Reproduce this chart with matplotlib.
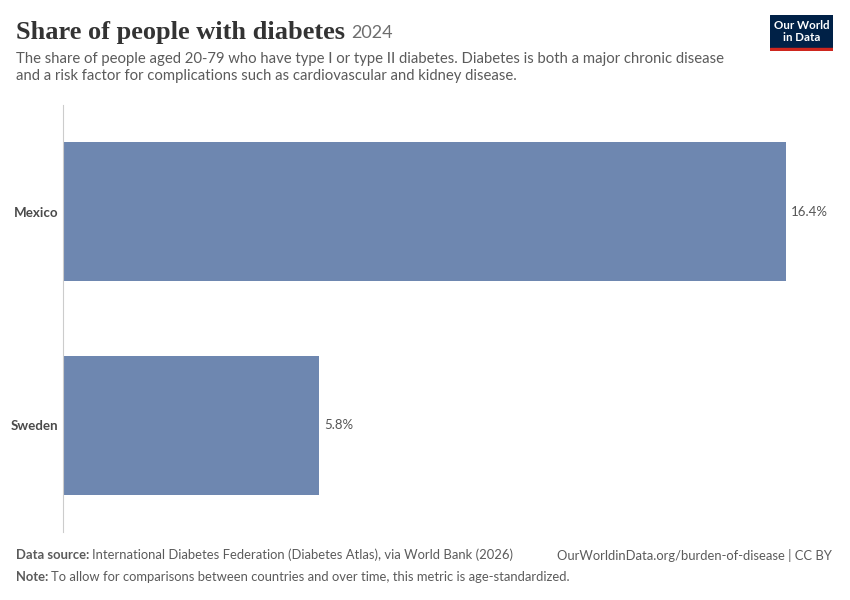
import matplotlib
matplotlib.use("Agg")
import matplotlib.pyplot as plt
from matplotlib.patches import Rectangle

countries = ["Mexico", "Sweden"]
values = [16.4, 5.8]
value_labels = ["16.4%", "5.8%"]

W, H = 850, 600
fig = plt.figure(figsize=(W / 100, H / 100), dpi=100)
plt.rcParams['font.family'] = ['Lato', 'DejaVu Sans']
renderer = fig.canvas.get_renderer()

def fx(px):
    return px / W

def fy(py):
    return 1 - py / H

def after(t, gap_px):
    bb = t.get_window_extent(renderer=renderer)
    return (bb.x1 + gap_px) / W

ax_left, ax_right, ax_top, ax_bottom = 63, 786, 105, 532
ax = fig.add_axes([fx(ax_left), fy(ax_bottom), fx(ax_right - ax_left), (ax_bottom - ax_top) / H])
bar_color = "#6e87b0"
ypos = list(range(len(countries)))
ax.barh(ypos, values, height=0.65, color=bar_color)
ax.set_xlim(0, 16.4)
ax.set_ylim(1.5, -0.5)
for s in ["top", "right", "bottom"]:
    ax.spines[s].set_visible(False)
ax.spines["left"].set_color("#cccccc")
ax.spines["left"].set_linewidth(0.8)
ax.set_xticks([])
ax.set_yticks(ypos)
ax.set_yticklabels(countries, fontsize=9.6, fontweight="bold", color="#4a4a4a")
ax.tick_params(axis="y", length=0, pad=3.5)
for y, v, lab in zip(ypos, values, value_labels):
    ax.text(v + 0.12, y, lab, va="center", ha="left", fontsize=9.5, color="#555555", clip_on=False)

# Title
t = fig.text(fx(16), fy(32), "Share of people with diabetes", fontsize=19, fontweight="bold",
             family=["Liberation Serif", "DejaVu Serif"], color="#333333", va="center", ha="left")
fig.text(after(t, 6), fy(33), "2024", fontsize=13, color="#6e6e6e", va="center", ha="left")

sub = ("The share of people aged 20-79 who have type I or type II diabetes. Diabetes is both a major chronic disease\n"
       "and a risk factor for complications such as cardiovascular and kidney disease.")
fig.text(fx(16), fy(52), sub, fontsize=10.7, color="#5b5b5b", va="top", ha="left", linespacing=1.3)

# Logo
logo = fig.add_axes([fx(770), fy(51), fx(63), 36 / H])
logo.set_xlim(0, 1)
logo.set_ylim(0, 1)
logo.axis("off")
logo.add_patch(Rectangle((0, 0.08), 1, 0.92, color="#002147"))
logo.add_patch(Rectangle((0, 0), 1, 0.08, color="#ce261e"))
logo.text(0.5, 0.54, "Our World\nin Data", color="white", fontsize=8.3, ha="center", va="center",
          fontweight="bold", linespacing=1.05)

# Footer
fs = 9.4
a = fig.text(fx(16), fy(555), "Data source:", fontsize=fs, color="#5b5b5b", fontweight="bold", va="center", ha="left")
fig.text(after(a, 3), fy(555), "International Diabetes Federation (Diabetes Atlas), via World Bank (2026)",
         fontsize=fs, color="#5b5b5b", va="center", ha="left")
fig.text(fx(832), fy(555), "OurWorldinData.org/burden-of-disease | CC BY", fontsize=fs, color="#5b5b5b",
         va="center", ha="right")
b = fig.text(fx(16), fy(577), "Note:", fontsize=fs, color="#5b5b5b", fontweight="bold", va="center", ha="left")
fig.text(after(b, 3), fy(577), "To allow for comparisons between countries and over time, this metric is age-standardized.",
         fontsize=fs, color="#5b5b5b", va="center", ha="left")

fig.savefig("out.png", dpi=100, facecolor="white")
